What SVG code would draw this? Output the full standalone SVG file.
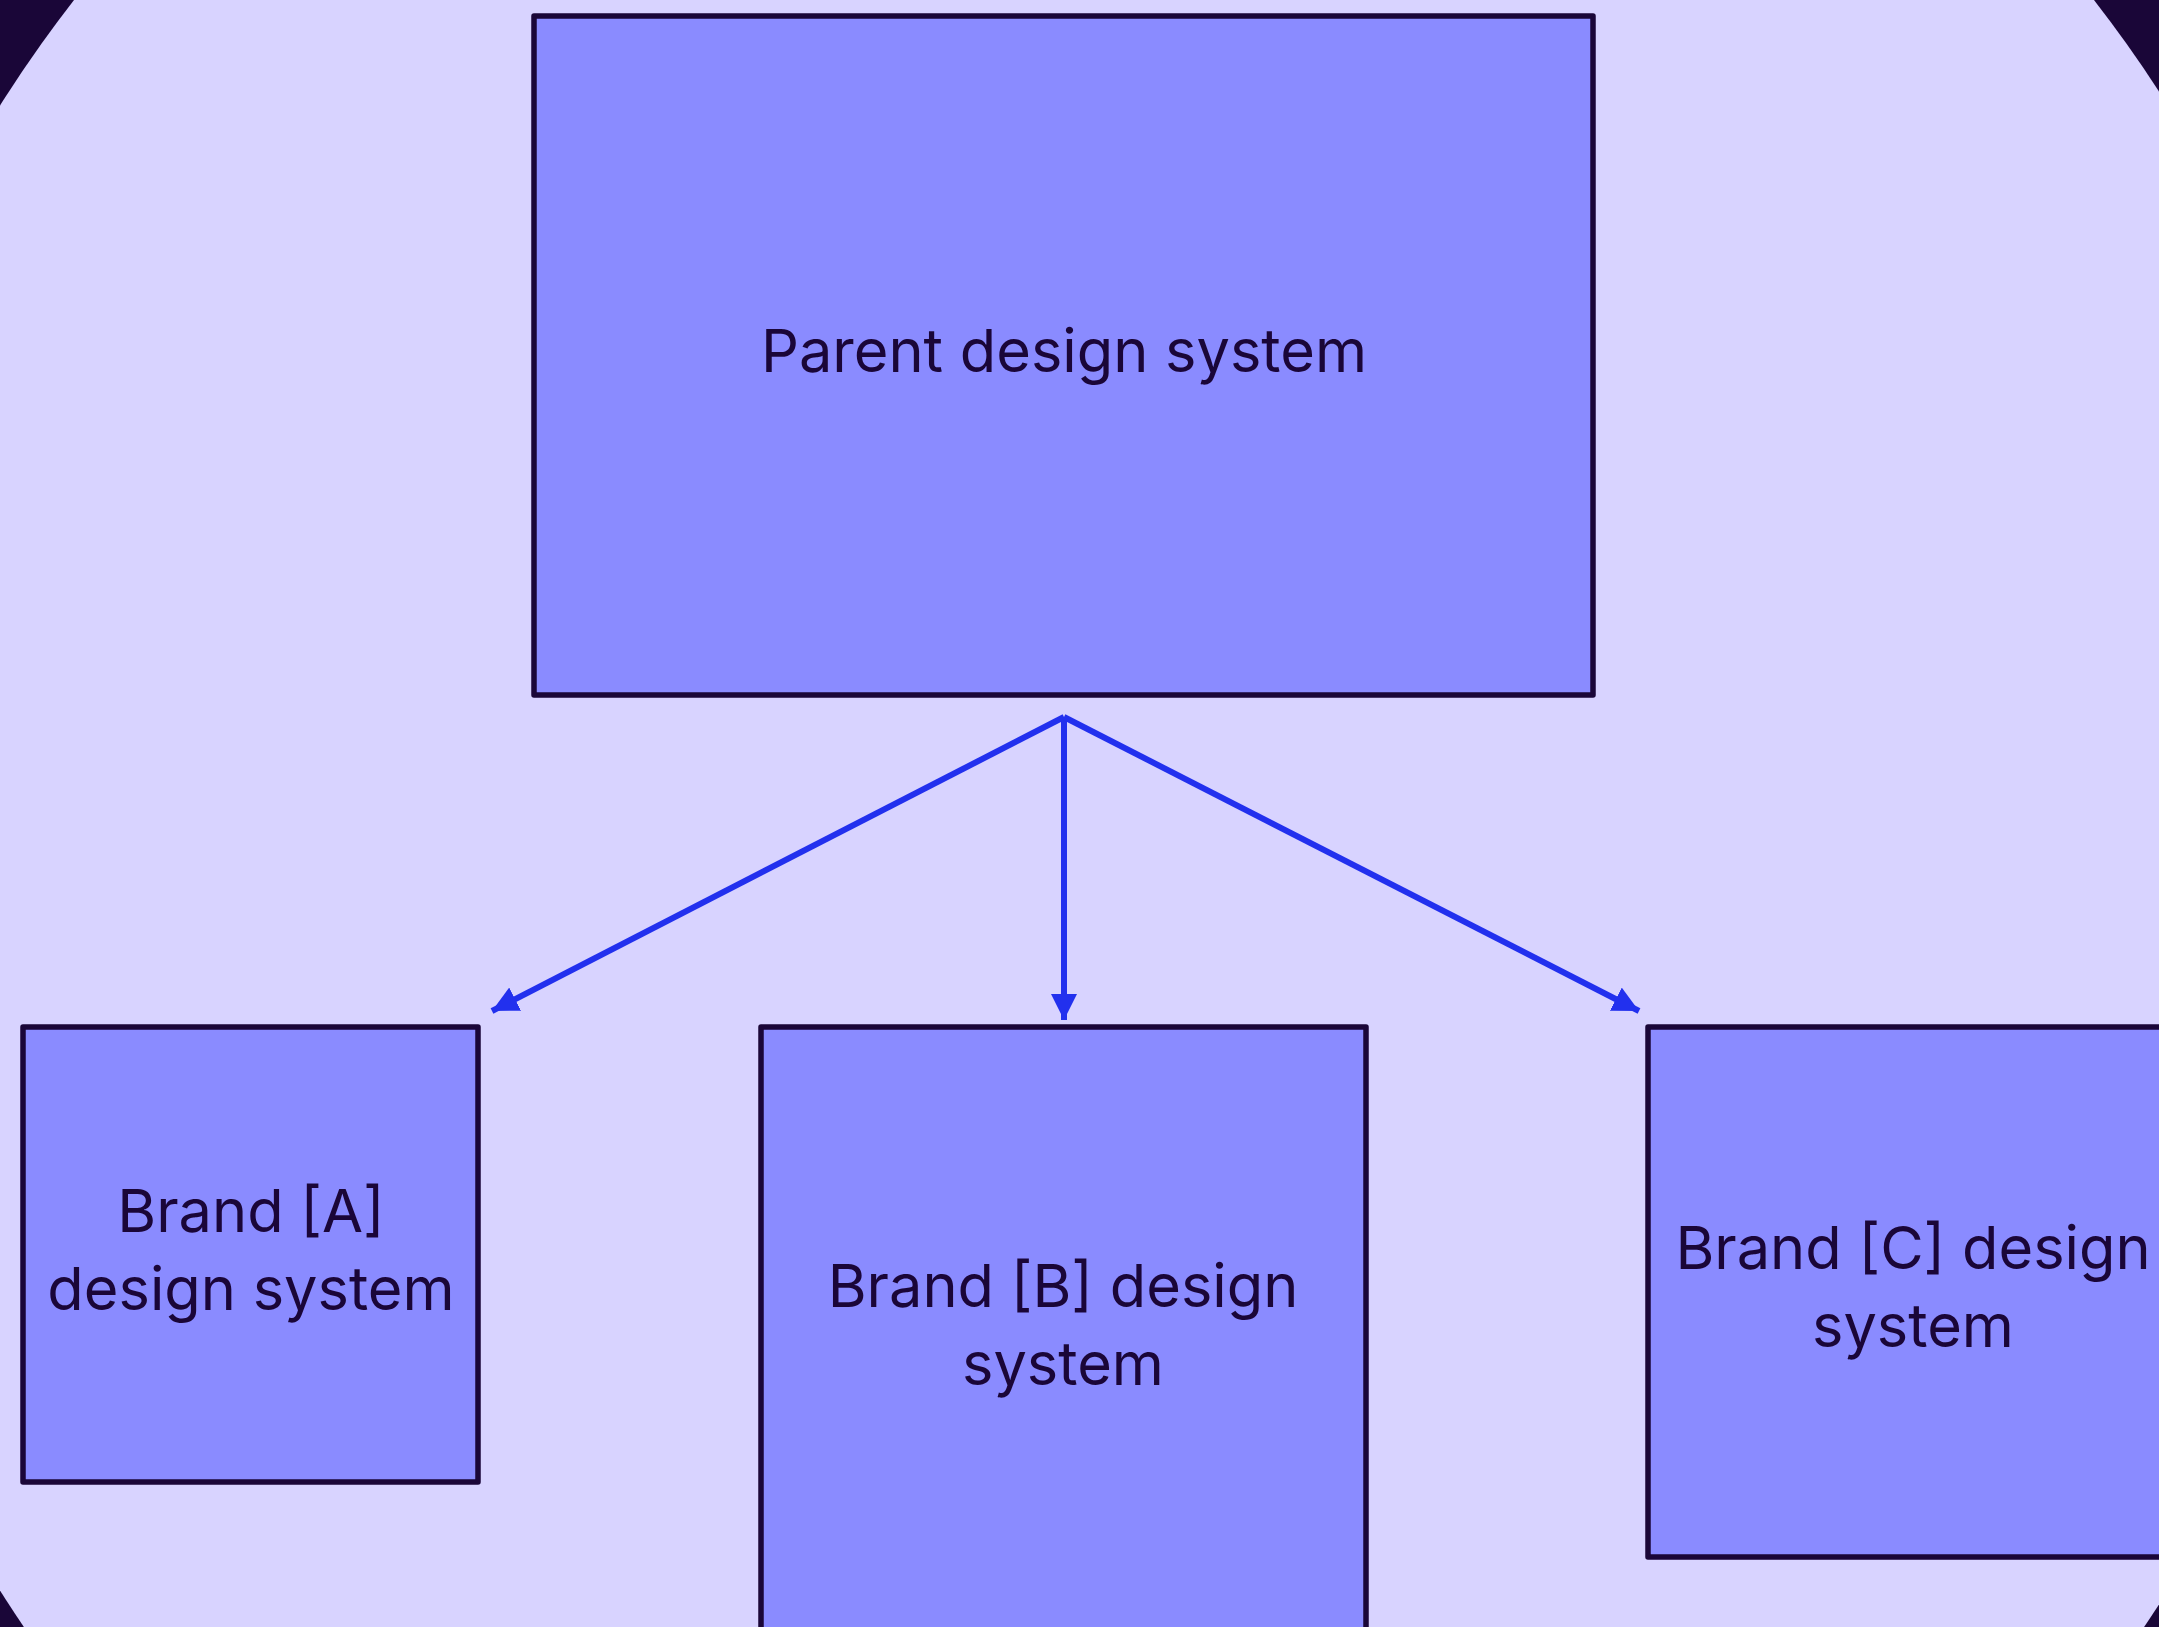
<svg xmlns="http://www.w3.org/2000/svg" width="2159" height="1627" viewBox="0 0 2159 1627">
  <style>
    .node rect { fill: #8a8bff; stroke: #1a0638; stroke-width: 5.5; stroke-linejoin: round; }
    .node text { font-family: Inter, "Noto Sans", "Liberation Sans", sans-serif; font-size: 59.5px; fill: #1a0638; text-anchor: middle; }
    .edge { stroke: #2230ee; stroke-width: 6; fill: none; marker-end: url(#arrow); }
  </style>
  <defs>
    <marker id="arrow" markerUnits="userSpaceOnUse" markerWidth="26" markerHeight="26" viewBox="0 0 26 26" refX="26" refY="13" orient="auto">
      <path d="M0,0 L26,13 L0,26 z" fill="#2230ee"/>
    </marker>
  </defs>
  <rect x="0" y="0" width="2159" height="1627" fill="#1a0638"/>
  <ellipse cx="1084" cy="848" rx="1298" ry="1350" fill="#d8d3ff"/>
  <g id="connectors">
    <line class="edge" x1="1064" y1="717" x2="492" y2="1011"/>
    <line class="edge" x1="1064" y1="717" x2="1064" y2="1020"/>
    <line class="edge" x1="1064" y1="717" x2="1639" y2="1011"/>
  </g>
  <g id="parent" class="node">
    <rect x="534" y="16" width="1059" height="679"/>
    <text x="1064" y="372">Parent design system</text>
  </g>
  <g id="brand-a" class="node">
    <rect x="23" y="1027" width="455" height="455"/>
    <text x="251" y="1232">Brand [A]</text>
    <text x="251" y="1310">design system</text>
  </g>
  <g id="brand-b" class="node">
    <rect x="761" y="1027" width="605" height="640"/>
    <text x="1063" y="1307">Brand [B] design</text>
    <text x="1063" y="1385">system</text>
  </g>
  <g id="brand-c" class="node">
    <rect x="1648" y="1027" width="540" height="530"/>
    <text x="1913" y="1269">Brand [C] design</text>
    <text x="1913" y="1347">system</text>
  </g>
</svg>
